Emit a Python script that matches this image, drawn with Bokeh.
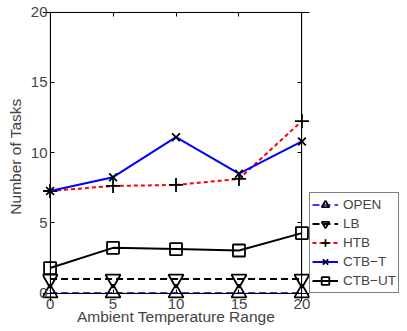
from bokeh.plotting import figure
from bokeh.models import Range1d, LinearAxis, Legend, LegendItem, FixedTicker, BoxAnnotation
from bokeh.embed import file_html
from bokeh.resources import INLINE

x = [0, 5, 10, 15, 20]
open_v = [0, 0, 0, 0, 0]
lb_v = [1, 1, 1, 1, 1]
htb_v = [7.27, 7.63, 7.7, 8.13, 12.25]
ctbt_v = [7.27, 8.25, 11.1, 8.5, 10.8]
ctbut_v = [1.78, 3.22, 3.13, 3.03, 4.27]
ticks = [0, 5, 10, 15, 20]

FONT = "Liberation Sans"

p = figure(width=407, height=331, output_backend="svg", toolbar_location=None,
           frame_width=267, frame_height=290,
           x_range=Range1d(-0.6, 20.6), y_range=Range1d(-0.6, 20.05),
           min_border_left=42, min_border_right=0, min_border_top=11, min_border_bottom=29)
p.grid.visible = False
p.outline_line_color = None

# label-only axes at the frame edges
for ax in [p.xaxis[0], p.yaxis[0]]:
    ax.ticker = FixedTicker(ticks=ticks)
    ax.major_tick_in = 0
    ax.major_tick_out = 0
    ax.major_tick_line_color = None
    ax.minor_tick_line_color = None
    ax.axis_line_color = None
    ax.major_label_text_font = FONT
    ax.major_label_text_font_size = "15px"
    ax.axis_label_text_font = FONT
    ax.axis_label_text_font_size = "15.5px"
    ax.axis_label_text_font_style = "normal"
p.xaxis.axis_label = "Ambient Temperature Range"
p.yaxis.axis_label = "Number of Tasks"
p.xaxis.major_label_standoff = -3
p.yaxis.major_label_standoff = -5
p.xaxis.axis_label_standoff = -4
p.yaxis.axis_label_standoff = 4

# box outline at the data limits
p.add_layout(BoxAnnotation(left=0, right=20, bottom=0, top=20, fill_alpha=0,
                           line_color="black", line_width=1))

r_open_l = p.line(x, open_v, line_color="blue", line_dash="7 4", line_width=1.5)
r_open_m = p.scatter(x, open_v, marker="triangle", size=15, line_color="black", fill_color=None, line_width=1.8)
r_lb_l = p.line(x, lb_v, line_color="black", line_dash="7 4", line_width=2)
r_lb_m = p.scatter(x, lb_v, marker="inverted_triangle", size=15, line_color="black", fill_color=None, line_width=1.8)
r_htb_l = p.line(x, htb_v, line_color="red", line_dash="4 3", line_width=2)
r_htb_m = p.scatter(x, htb_v, marker="cross", size=14, line_color="black", line_width=1.8)
r_ct_l = p.line(x, ctbt_v, line_color="blue", line_width=2)
r_ct_m = p.scatter(x, ctbt_v, marker="x", size=11, line_color="black", line_width=1.8)
r_cu_l = p.line(x, ctbut_v, line_color="black", line_width=2)
r_cu_m = p.scatter(x, ctbut_v, marker="square", size=12, line_color="black", fill_color=None, line_width=1.8)

legend = Legend(items=[
    LegendItem(label="OPEN", renderers=[r_open_l, r_open_m]),
    LegendItem(label="LB", renderers=[r_lb_l, r_lb_m]),
    LegendItem(label="HTB", renderers=[r_htb_l, r_htb_m]),
    LegendItem(label="CTB\u2212T", renderers=[r_ct_l, r_ct_m]),
    LegendItem(label="CTB\u2212UT", renderers=[r_cu_l, r_cu_m]),
], location=(0, 8))
legend.label_text_font = FONT
legend.label_text_font_size = "13.5px"
legend.spacing = 0
legend.label_height = 19
legend.glyph_height = 19
legend.glyph_width = 26
legend.padding = 2
legend.margin = 0
legend.label_standoff = 5
legend.border_line_color = "black"
legend.border_line_width = 1
legend.background_fill_alpha = 1
p.add_layout(legend, "right")

# tick-only axes on the four sides of the box (inward ticks)
def tick_axis(loc, fixed, tin, tout):
    a = LinearAxis(ticker=FixedTicker(ticks=ticks), major_tick_in=tin, major_tick_out=tout,
                   minor_tick_line_color=None, major_label_text_alpha=0, fixed_location=fixed,
                   major_label_text_font_size="1px", axis_line_color="black")
    p.add_layout(a, loc)

tick_axis("below", 0, 4, 0)    # bottom edge, ticks up
tick_axis("below", 20, 0, 4)   # top edge, ticks down
tick_axis("right", 0, 0, 4)    # left edge, ticks right
tick_axis("right", 20, 4, 0)   # right edge, ticks left

open("out.html", "w").write(file_html(p, INLINE))
